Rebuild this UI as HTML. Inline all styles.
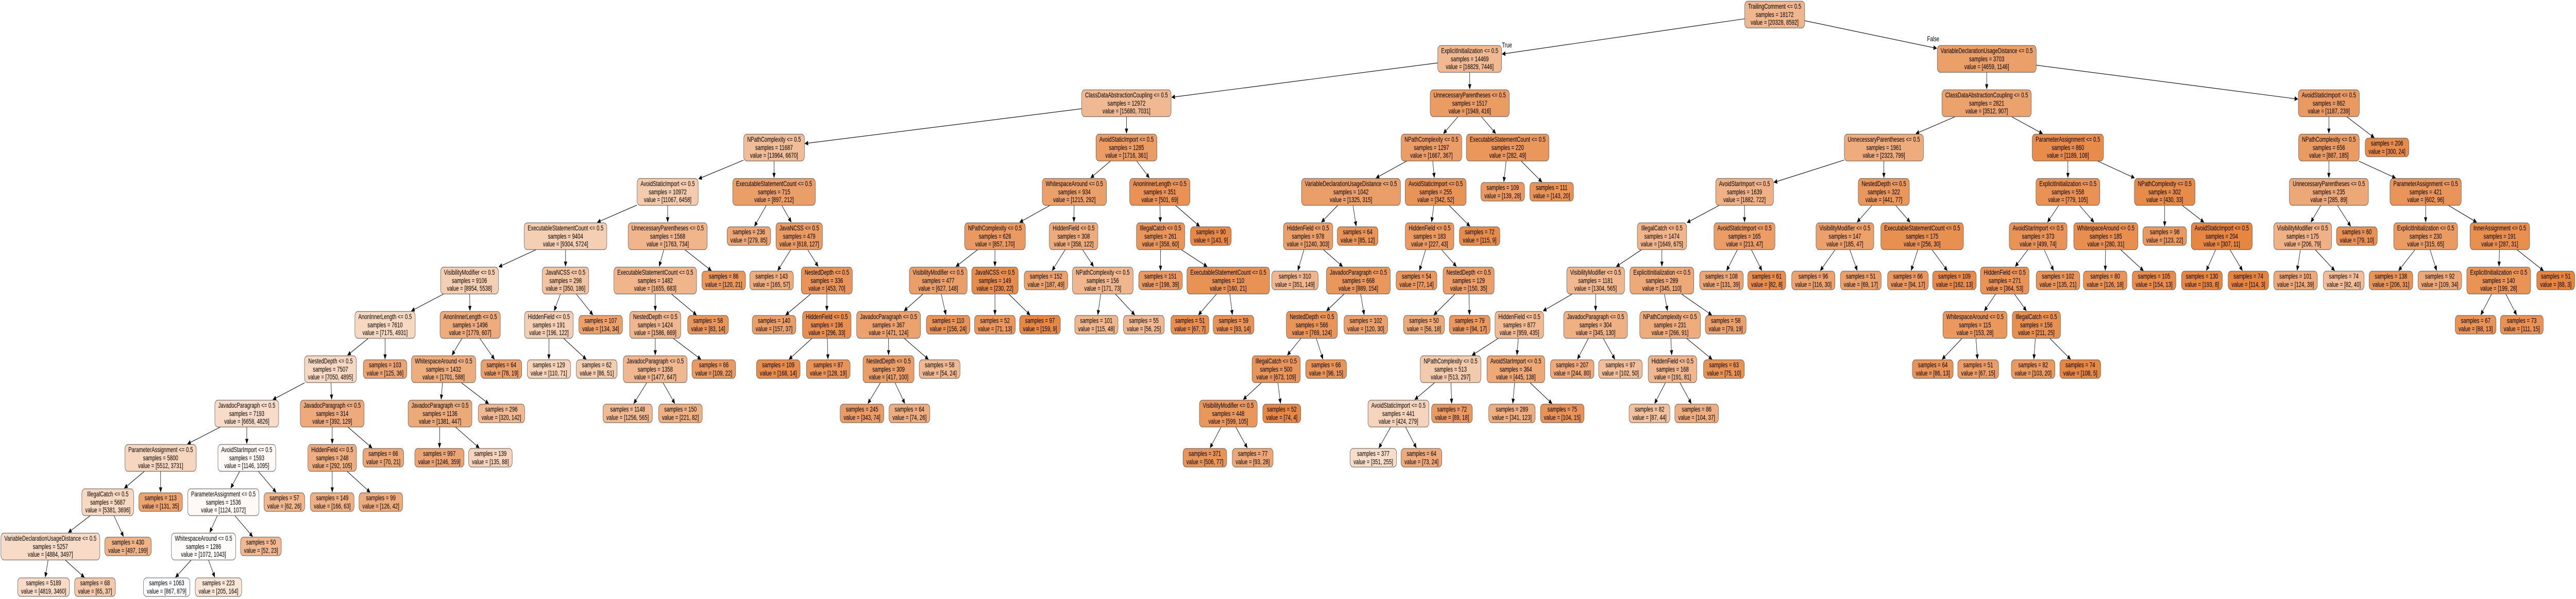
<!DOCTYPE html>
<html><head><meta charset="utf-8">
<style>
html,body{margin:0;padding:0;background:#fff;width:7265px;height:1162px;overflow:hidden;}
#c{position:absolute;left:0;top:0;width:7265px;height:1162px;overflow:hidden;background:#fff;font-family:"Liberation Sans",Arial,sans-serif;transform-origin:0 0;}
.nd{position:absolute;transform:translate(-50%,-50%);border:1.4px solid #555;border-radius:9px;padding:2px 9px;font-size:14px;line-height:15.5px;text-align:center;white-space:nowrap;color:#000;box-sizing:border-box;}
.lb{position:absolute;font-size:14px;transform:translate(-50%,-50%);}
svg{position:absolute;left:0;top:0;}
</style></head><body>
<div id="c">
<svg id="s" width="7265" height="1162"></svg>
<div class="lb" style="left:4250px;top:87px">True</div>
<div class="lb" style="left:5452px;top:75px">False</div>
</div>
<script>
const N=[];function n(x,l,p,f,s,a,b){N.push({x,l,p,f,s,a,b});return N.length-1;}
const root=n(5005,0,-1,'TrailingComment',18172,20328,8592);
const A=n(4145,1,root,'ExplicitInitialization',14469,16829,7446);
const B=n(5603,1,root,'VariableDeclarationUsageDistance',3703,4659,1146);
const c1=n(3177,2,A,'ClassDataAbstractionCoupling',12972,15680,7031);
const np=n(2183,3,c1,'NPathComplexity',11687,13964,6670);
const as=n(1883,4,np,'AvoidStaticImport',10972,11067,6458);
const esc=n(1595,5,as,'ExecutableStatementCount',9404,9304,5724);
const vm=n(1324,6,esc,'VisibilityModifier',9106,8954,5538);
const ail=n(1086,7,vm,'AnonInnerLength',7610,7175,4931);
const nd=n(932,8,ail,'NestedDepth',7507,7050,4895);
const jp=n(696,9,nd,'JavadocParagraph',7193,6658,4826);
const pa=n(453,10,jp,'ParameterAssignment',5800,5512,3731);
const ic=n(304,11,pa,'IllegalCatch',5687,5381,3696);
const vd=n(142,12,ic,'VariableDeclarationUsageDistance',5257,4884,3497);
n(123,13,vd,'',5189,4819,3460);n(268,13,vd,'',68,65,37);
n(361,12,ic,'',430,497,199);
n(453,11,pa,'',113,131,35);
const asi=n(696,10,jp,'AvoidStarImport',1593,1146,1095);
const pa2=n(630,11,asi,'ParameterAssignment',1536,1124,1072);
const wa=n(574,12,pa2,'WhitespaceAround',1286,1072,1043);
n(470,13,wa,'',1063,867,879);n(616,13,wa,'',223,205,164);
n(736,12,pa2,'',50,52,23);
n(802,11,asi,'',57,62,26);
const jp2=n(937,9,nd,'JavadocParagraph',314,392,129);
const hf=n(937,10,jp2,'HiddenField',248,292,105);
n(937,11,hf,'',149,166,63);n(1074,11,hf,'',99,126,42);
n(1081,10,jp2,'',66,70,21);
n(1086,8,ail,'',103,125,36);
const ail2=n(1326,7,vm,'AnonInnerLength',1496,1779,607);
const wa2=n(1251,8,ail2,'WhitespaceAround',1432,1701,588);
const jp3=n(1241,9,wa2,'JavadocParagraph',1136,1381,447);
n(1239,10,jp3,'',997,1246,359);n(1383,10,jp3,'',139,135,88);
n(1414,9,wa2,'',296,320,142);
n(1414,8,ail2,'',64,78,19);
const jn=n(1595,6,esc,'JavaNCSS',298,350,186);
const hf2=n(1548,7,jn,'HiddenField',191,196,122);
n(1548,8,hf2,'',129,110,71);n(1683,8,hf2,'',62,86,51);
n(1694,7,jn,'',107,134,34);
const up=n(1883,5,as,'UnnecessaryParentheses',1568,1763,734);
const esc2=n(1848,6,up,'ExecutableStatementCount',1482,1655,683);
const nd2=n(1848,7,esc2,'NestedDepth',1424,1586,669);
const jp4=n(1848,8,nd2,'JavadocParagraph',1358,1477,647);
n(1770,9,jp4,'',1148,1256,565);n(1919,9,jp4,'',150,221,82);
n(2013,8,nd2,'',66,109,22);
n(1997,7,esc2,'',58,83,14);
n(2041,6,up,'',86,120,21);
const esc3=n(2183,4,np,'ExecutableStatementCount',715,897,212);
n(2112,5,esc3,'',236,279,85);
const jn2=n(2254,5,esc3,'JavaNCSS',479,618,127);
n(2176,6,jn2,'',143,165,57);
const nd3=n(2332,6,jn2,'NestedDepth',336,453,70);
n(2183,7,nd3,'',140,157,37);
const hf3=n(2332,7,nd3,'HiddenField',196,296,33);
n(2195,8,hf3,'',109,168,14);n(2336,8,hf3,'',87,128,19);
const as2=n(3177,3,c1,'AvoidStaticImport',1285,1716,361);
const wa3=n(3030,4,as2,'WhitespaceAround',934,1215,292);
const np2=n(2806,5,wa3,'NPathComplexity',626,857,170);
const vm2=n(2646,6,np2,'VisibilityModifier',477,627,148);
const jp5=n(2506,7,vm2,'JavadocParagraph',367,471,124);
const nd4=n(2506,8,jp5,'NestedDepth',309,417,100);
n(2431,9,nd4,'',245,343,74);n(2565,9,nd4,'',64,74,26);
n(2650,8,jp5,'',58,54,24);
n(2674,7,vm2,'',110,156,24);
const jn3=n(2806,6,np2,'JavaNCSS',149,230,22);
n(2806,7,jn3,'',52,71,13);n(2933,7,jn3,'',97,159,9);
const hf4=n(3028,5,wa3,'HiddenField',308,358,122);
n(2950,6,hf4,'',152,187,49);
const np3=n(3110,6,hf4,'NPathComplexity',156,171,73);
n(3092,7,np3,'',101,115,48);n(3226,7,np3,'',55,56,25);
const ail3=n(3271,4,as2,'AnonInnerLength',351,501,69);
const ic2=n(3273,5,ail3,'IllegalCatch',261,358,60);
n(3273,6,ic2,'',151,198,39);
const esc4=n(3464,6,ic2,'ExecutableStatementCount',110,160,21);
n(3356,7,esc4,'',51,67,7);n(3479,7,esc4,'',59,93,14);
n(3415,5,ail3,'',90,143,9);
const up2=n(4145,2,A,'UnnecessaryParentheses',1517,1949,416);
const np4=n(4037,3,up2,'NPathComplexity',1297,1667,367);
const vd2=n(3810,4,np4,'VariableDeclarationUsageDistance',1042,1325,315);
const hf5=n(3689,5,vd2,'HiddenField',978,1240,303);
n(3652,6,hf5,'',310,351,149);
const jp6=n(3831,6,hf5,'JavadocParagraph',668,889,154);
const nd5=n(3700,7,jp6,'NestedDepth',566,769,124);
const ic3=n(3599,8,nd5,'IllegalCatch',500,673,109);
const vm3=n(3464,9,ic3,'VisibilityModifier',448,599,105);
n(3398,10,vm3,'',371,506,77);n(3533,10,vm3,'',77,93,28);
n(3615,9,ic3,'',52,74,4);
n(3740,8,nd5,'',66,96,15);
n(3852,7,jp6,'',102,120,30);
n(3829,5,vd2,'',64,85,12);
const as3=n(4049,4,np4,'AvoidStaticImport',255,342,52);
const hf6=n(4032,5,as3,'HiddenField',183,227,43);
n(3995,6,hf6,'',54,77,14);
const nd6=n(4142,6,hf6,'NestedDepth',129,150,35);
n(4016,7,nd6,'',50,56,18);n(4145,7,nd6,'',79,94,17);
n(4173,5,as3,'',72,115,9);
const esc5=n(4252,3,up2,'ExecutableStatementCount',220,282,49);
n(4238,4,esc5,'',109,139,28);n(4376,4,esc5,'',111,143,20);
const c2=n(5603,2,B,'ClassDataAbstractionCoupling',2821,3512,907);
const up3=n(5313,3,c2,'UnnecessaryParentheses',1961,2323,799);
const asi2=n(4920,4,up3,'AvoidStarImport',1639,1882,722);
const ic4=n(4687,5,asi2,'IllegalCatch',1474,1649,675);
const vm4=n(4500,6,ic4,'VisibilityModifier',1181,1304,565);
const hf7=n(4285,7,vm4,'HiddenField',877,959,435);
const np5=n(4091,8,hf7,'NPathComplexity',513,513,297);
const as4=n(3944,9,np5,'AvoidStaticImport',441,424,279);
n(3873,10,as4,'',377,351,255);n(4009,10,as4,'',64,73,24);
n(4095,9,np5,'',72,89,18);
const asi3=n(4275,8,hf7,'AvoidStarImport',364,445,138);
n(4264,9,asi3,'',289,341,123);n(4406,9,asi3,'',75,104,15);
const jp7=n(4500,7,vm4,'JavadocParagraph',304,345,130);
n(4434,8,jp7,'',207,244,80);n(4570,8,jp7,'',97,102,50);
const ei=n(4687,6,ic4,'ExplicitInitialization',289,345,110);
const np6=n(4710,7,ei,'NPathComplexity',231,266,91);
const hf8=n(4717,8,np6,'HiddenField',168,191,81);
n(4652,9,hf8,'',82,87,44);n(4785,9,hf8,'',86,104,37);
n(4862,8,np6,'',63,75,10);
n(4867,7,ei,'',58,79,19);
const as5=n(4920,5,asi2,'AvoidStaticImport',165,213,47);
n(4855,6,as5,'',108,131,39);n(4983,6,as5,'',61,82,8);
const nd7=n(5313,4,up3,'NestedDepth',322,441,77);
const vm5=n(5203,5,nd7,'VisibilityModifier',147,185,47);
n(5114,6,vm5,'',96,116,30);n(5248,6,vm5,'',51,69,17);
const esc6=n(5421,5,nd7,'ExecutableStatementCount',175,256,30);
n(5381,6,esc6,'',66,94,17);n(5512,6,esc6,'',109,162,13);
const pa3=n(5832,3,c2,'ParameterAssignment',860,1189,108);
const ei2=n(5832,4,pa3,'ExplicitInitialization',558,779,105);
const asi4=n(5748,5,ei2,'AvoidStarImport',373,499,74);
const hf9=n(5654,6,asi4,'HiddenField',271,364,53);
const wa4=n(5570,7,hf9,'WhitespaceAround',115,153,28);
n(5451,8,wa4,'',64,86,13);n(5579,8,wa4,'',51,67,15);
const ic5=n(5743,7,hf9,'IllegalCatch',156,211,25);
n(5734,8,ic5,'',82,103,20);n(5867,8,ic5,'',74,108,5);
n(5804,6,asi4,'',102,135,21);
const wa5=n(5939,5,ei2,'WhitespaceAround',185,280,31);
n(5937,6,wa5,'',80,126,18);n(6075,6,wa5,'',105,154,13);
const np7=n(6105,4,pa3,'NPathComplexity',302,430,33);
n(6105,5,np7,'',98,123,22);
const as6=n(6266,5,np7,'AvoidStaticImport',204,307,11);
n(6210,6,as6,'',130,193,8);n(6341,6,as6,'',74,114,3);
const as7=n(6568,2,B,'AvoidStaticImport',862,1187,239);
const np8=n(6568,3,as7,'NPathComplexity',656,887,185);
const up4=n(6568,4,np8,'UnnecessaryParentheses',235,285,89);
const vm6=n(6494,5,up4,'VisibilityModifier',175,206,79);
n(6474,6,vm6,'',101,124,39);n(6610,6,vm6,'',74,82,40);
n(6647,5,up4,'',60,79,10);
const pa4=n(6841,4,np8,'ParameterAssignment',421,602,96);
const ei3=n(6841,5,pa4,'ExplicitInitialization',230,315,65);
n(6743,6,ei3,'',138,206,31);n(6881,6,ei3,'',92,109,34);
const ia=n(7050,5,pa4,'InnerAssignment',191,287,31);
const ei4=n(7047,6,ia,'ExplicitInitialization',140,199,28);
n(6982,7,ei4,'',67,88,13);n(7112,7,ei4,'',73,111,15);
n(7208,6,ia,'',51,88,3);
n(6732,3,as7,'',206,300,24);

const c=document.getElementById('c');
function col(a,b){let al,base;if(a>=b){al=1-b/a;base=[229,129,57];}else{al=1-a/b;base=[57,157,229];}
return 'rgb('+base.map(v=>Math.round(255-al*(255-v))).join(',')+')';}
N.forEach(d=>{
 const y=d.l<13?28+86*d.l:1139;
 d.y=y;
 const e=document.createElement('div');e.className='nd';
 e.style.left=d.x+'px';e.style.top=y+'px';e.style.background=col(d.a,d.b);
 e.innerHTML=(d.f?d.f+' &lt;= 0.5<br>':'')+'samples = '+d.s+'<br>value = ['+d.a+', '+d.b+']';
 c.appendChild(e);d.e=e;
});
N.forEach(d=>{d.w=d.e.offsetWidth;d.h=d.e.offsetHeight;});
function clip(cx,cy,w,h,dx,dy){
 const sx=dx!==0?(w/2)/Math.abs(dx):1e9, sy=dy!==0?(h/2)/Math.abs(dy):1e9;
 const t=Math.min(sx,sy);return [cx+dx*t,cy+dy*t];}
let svg='';
N.forEach(d=>{
 if(d.p<0)return;const p=N[d.p];
 const dx=d.x-p.x,dy=d.y-p.y;
 const s=clip(p.x,p.y,p.w,p.h,dx,dy);
 const e=clip(d.x,d.y,d.w,d.h,-dx,-dy);
 const L=Math.hypot(e[0]-s[0],e[1]-s[1]);const ux=(e[0]-s[0])/L,uy=(e[1]-s[1])/L;
 const al=10,aw=4.5;const bx=e[0]-ux*al,by=e[1]-uy*al;
 svg+='<line x1="'+s[0]+'" y1="'+s[1]+'" x2="'+bx+'" y2="'+by+'" stroke="#000" stroke-width="1.1"/>';
 svg+='<polygon points="'+e[0]+','+e[1]+' '+(bx-uy*aw)+','+(by+ux*aw)+' '+(bx+uy*aw)+','+(by-ux*aw)+'" fill="#000"/>';
});
document.getElementById('s').innerHTML=svg;
(function(){
 const vw=window.innerWidth||7265, vh=window.innerHeight||1162;
 const sx=vw/7265, sy=vh/1162;
 if(Math.abs(sx-1)>0.01||Math.abs(sy-1)>0.01){
  c.style.transform='scale('+sx+','+sy+')';
  document.documentElement.style.width=vw+'px';document.body.style.width=vw+'px';
  document.documentElement.style.height=vh+'px';document.body.style.height=vh+'px';
 }
})();
</script>
</body></html>
